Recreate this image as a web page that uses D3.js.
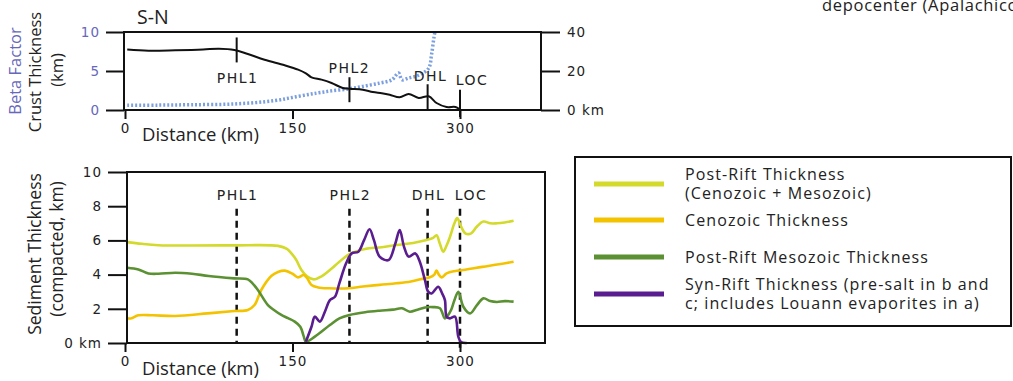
<!DOCTYPE html>
<html>
<head>
<meta charset="utf-8">
<script src="https://cdn.jsdelivr.net/npm/d3@7"></script>
<style>
  html, body { margin: 0; padding: 0; background: #fff; overflow: hidden; }
  svg { display: block; font-family: "Open Sans", sans-serif; }
  .tick text { font-family: "DejaVu Sans", sans-serif; font-size: 13.5px; letter-spacing: 1px; }
</style>
</head>
<body>
<svg id="chart" width="1013" height="381"></svg>
<script>
// ---- data (km along profile, value) ----
const crustThickness = [[2,7.75],[21,7.6],[45,7.65],[70,7.75],[84,7.86],[98,7.7],[110,7.18],[125,6.45],[143,5.73],[155,5.17],[162,4.7],[167,4.19],[176,3.89],[185,3.46],[195,2.82],[201,2.73],[213,2.6],[222,2.3],[230,2.15],[237,1.96],[246,1.63],[254,2.05],[263,1.54],[272,1.76],[279,0.9],[288,0.38],[296,0.38],[300,0.04]];
const betaFactor = [[2,2.4],[30,2.5],[59,2.7],[98,3.1],[134,4.8],[155,7.0],[172,8.7],[185,9.8],[201,10.9],[213,12.1],[228,13.8],[239,15.5],[245,19],[248,15.5],[254,16.4],[263,17.8],[272,21.5],[274.5,28.4],[276.6,36.9],[277.5,40]];

const postRift = [[2,5.9],[15,5.8],[30,5.72],[60,5.7],[98,5.71],[137,5.68],[145,5.5],[149,5.24],[153,4.9],[158,4.27],[163,3.9],[169,3.72],[176,3.9],[184,4.3],[192,4.75],[201,5.2],[215,5.5],[230,5.6],[243,5.73],[258,5.85],[270,6.02],[276,6.15],[279,6.3],[282,5.8],[285,5.34],[288,5.7],[291,6.2],[295,7.0],[297.5,7.3],[301,6.8],[305,6.4],[310,6.41],[315,6.8],[321,7.1],[327,7.0],[333,7.0],[340,7.05],[348,7.15]];
const cenozoic = [[2,1.44],[6,1.45],[12,1.62],[25,1.62],[45,1.58],[74,1.73],[98,1.87],[110,1.93],[116,2.22],[122,3.1],[131,3.92],[137,4.15],[143,4.23],[150,4.05],[155,3.84],[160,3.98],[163,3.8],[167,3.39],[173,3.25],[183,3.2],[200,3.2],[213,3.3],[228,3.4],[243,3.49],[256,3.6],[268,3.78],[273,3.84],[277,4.0],[279,4.23],[281,4.0],[283.5,3.84],[288,4.07],[295,4.2],[303,4.27],[320,4.45],[335,4.6],[348,4.75]];
const mesozoic = [[2,4.4],[12,4.3],[21,4.07],[30,4.05],[45,4.11],[60,4.05],[75,3.92],[98,3.78],[110,3.72],[114,3.5],[119,3.1],[128,2.22],[134,1.9],[140,1.64],[146,1.45],[152,1.25],[157,0.95],[160,0.4],[162,0.08],[170,0.37],[183.5,1.05],[192,1.44],[201,1.64],[215,1.8],[228,1.89],[240,1.95],[248,2.03],[255,1.83],[262,1.95],[270,2.09],[276,2.1],[282,2.03],[286.5,1.44],[289,1.6],[292,1.93],[295,2.5],[298.5,3.0],[303,2.12],[309,1.73],[315,2.2],[321,2.61],[327,2.45],[333,2.4],[340,2.45],[348,2.42]];
const synRift = [[162,0.08],[167,0.95],[170,1.54],[174.5,1.25],[179,1.83],[183.5,2.51],[188,2.7],[192,3.5],[198,4.66],[203,5.24],[209,5.34],[214,6.0],[219,6.65],[223,6.0],[228,5.05],[236,4.85],[242,5.8],[246,6.6],[250,5.6],[254,5.05],[260,5.24],[264,4.75],[268.6,3.68],[271.5,3.0],[274.6,2.9],[280.5,3.29],[284,2.9],[286.5,2.51],[288,1.54],[291,1.44],[295.5,1.54],[298.5,0.37],[301,0.05],[306,0]];

const markerNames = ['PHL1', 'PHL2', 'DHL', 'LOC'];
const markerKm = [100, 201, 271, 300];
const distTicks = [0, 150, 300];
const crustTicks = [0, 5, 10];
const betaTicks = [0, 20, 40];
const sedTicks = [0, 2, 4, 6, 8, 10];

const legendLabels = [
  ['Post-Rift Thickness', '(Cenozoic + Mesozoic)'],
  ['Cenozoic Thickness'],
  ['Post-Rift Mesozoic Thickness'],
  ['Syn-Rift Thickness (pre-salt in b and', 'c; includes Louann evaporites in a)'],
];

const COL = {
  postRift: '#d3da2b', cenozoic: '#f4c300', mesozoic: '#5b9132', synRift: '#5a1d8f',
  beta: '#7b9fdf', blueText: '#6767bb', ink: '#111',
};

const svg = d3.select('#chart');

// shared distance scale
const x = d3.scaleLinear().domain([0, 300]).range([125, 460]);

// ---- top panel ----
const topBox = { l: 124, r: 541, t: 32, b: 110 };
const yCrust = d3.scaleLinear().domain([0, 10]).range([topBox.b, topBox.t]);
const yBeta = d3.scaleLinear().domain([0, 40]).range([topBox.b, topBox.t]);

svg.append('text').attr('x', 137).attr('y', 24).attr('font-size', 19.5).attr('fill', '#222').text('S-N');
svg.append('text').attr('x', 822).attr('y', 11).attr('font-size', 16.5).attr('letter-spacing', 0.7)
  .attr('fill', '#222').text('depocenter (Apalachicola');

function axisStyle(g, color) {
  g.select('.domain').remove();
  g.selectAll('line').attr('stroke', COL.ink).attr('stroke-width', 2);
  g.selectAll('text').attr('fill', color || '#222');
}

svg.append('g').attr('transform', `translate(${topBox.l},0)`)
  .call(d3.axisLeft(yCrust).tickValues(crustTicks).tickSize(18).tickPadding(6))
  .call(axisStyle, COL.blueText);
svg.append('g').attr('transform', `translate(${topBox.r},0)`)
  .call(d3.axisRight(yBeta).tickValues(betaTicks).tickSize(19).tickPadding(7)
    .tickFormat((d) => (d === 0 ? '0 km' : d)))
  .call(axisStyle);
svg.append('g').attr('transform', `translate(0,${topBox.b})`)
  .call(d3.axisBottom(x).tickValues(distTicks).tickSize(9).tickPadding(4))
  .call(axisStyle);

svg.append('path').datum(betaFactor)
  .attr('d', d3.line().x((d) => x(d[0])).y((d) => yBeta(d[1])).curve(d3.curveCatmullRom))
  .attr('fill', 'none').attr('stroke', COL.beta).attr('stroke-width', 3.5)
  .attr('stroke-dasharray', '2,2');
svg.append('path').datum(crustThickness)
  .attr('d', d3.line().x((d) => x(d[0])).y((d) => yCrust(d[1])).curve(d3.curveCatmullRom))
  .attr('fill', 'none').attr('stroke', COL.ink).attr('stroke-width', 2);

svg.append('rect').attr('x', topBox.l).attr('y', topBox.t)
  .attr('width', topBox.r - topBox.l).attr('height', topBox.b - topBox.t)
  .attr('fill', 'none').attr('stroke', COL.ink).attr('stroke-width', 2);

// marker ticks in the crust panel: [tick top, tick bottom, label baseline] in crust km, label dx
const topMarkerSpan = [[9.3, 6.1, 3.5, 1], [4.2, 1.0, 4.75, 0], [3.3, 0, 3.75, 3], [2.6, -0.9, 3.2, 12]];
markerKm.forEach((km, i) => {
  const [a, b, ly, dx] = topMarkerSpan[i];
  svg.append('line').attr('x1', x(km)).attr('x2', x(km))
    .attr('y1', yCrust(a)).attr('y2', yCrust(b))
    .attr('stroke', COL.ink).attr('stroke-width', 2);
  svg.append('text').attr('x', x(km) + dx).attr('y', yCrust(ly))
    .attr('text-anchor', 'middle').attr('font-family', 'DejaVu Sans')
    .attr('font-size', 14).attr('letter-spacing', 1.5).attr('fill', '#222').text(markerNames[i]);
});

function vLabel(tx, ty, text, color, size) {
  svg.append('text').attr('transform', `translate(${tx},${ty}) rotate(-90)`)
    .attr('text-anchor', 'middle').attr('font-size', size || 16.5).attr('fill', color || '#222').text(text);
}
vLabel(21, 71, 'Beta Factor', COL.blueText);
vLabel(41, 72, 'Crust Thickness');
vLabel(63, 70, '(km)');
svg.append('text').attr('x', 142).attr('y', 141).attr('font-size', 18.5).attr('fill', '#222').text('Distance (km)');

// ---- bottom panel ----
const botBox = { l: 127, r: 545, t: 172, b: 343 };
const ySed = d3.scaleLinear().domain([0, 10]).range([botBox.b, botBox.t]);

svg.append('g').attr('transform', `translate(${botBox.l},0)`)
  .call(d3.axisLeft(ySed).tickValues(sedTicks).tickSize(19).tickPadding(6)
    .tickFormat((d) => (d === 0 ? '0 km' : d)))
  .call(axisStyle);
svg.append('g').attr('transform', `translate(0,${botBox.b})`)
  .call(d3.axisBottom(x).tickValues(distTicks).tickSize(9).tickPadding(4))
  .call(axisStyle);

// dashed hinge-line markers
markerKm.forEach((km, i) => {
  svg.append('line').attr('x1', x(km)).attr('x2', x(km))
    .attr('y1', ySed(7.85)).attr('y2', ySed(i === 3 ? -0.5 : 0))
    .attr('stroke', COL.ink).attr('stroke-width', 2.5).attr('stroke-dasharray', '7,5');
  svg.append('text').attr('x', x(km) + (i === 3 ? 11 : 1)).attr('y', ySed(8.35))
    .attr('text-anchor', 'middle').attr('font-family', 'DejaVu Sans')
    .attr('font-size', 14).attr('letter-spacing', 1.5).attr('fill', '#222').text(markerNames[i]);
});

const sedSeries = [
  { data: postRift, color: COL.postRift },
  { data: cenozoic, color: COL.cenozoic },
  { data: mesozoic, color: COL.mesozoic },
  { data: synRift, color: COL.synRift },
];
const sedLine = d3.line().x((d) => x(d[0])).y((d) => ySed(d[1])).curve(d3.curveCatmullRom);
sedSeries.forEach((s) => {
  svg.append('path').datum(s.data).attr('d', sedLine)
    .attr('fill', 'none').attr('stroke', s.color).attr('stroke-width', 2.6);
});

svg.append('rect').attr('x', botBox.l).attr('y', botBox.t)
  .attr('width', botBox.r - botBox.l).attr('height', botBox.b - botBox.t)
  .attr('fill', 'none').attr('stroke', COL.ink).attr('stroke-width', 2);

vLabel(41, 254, 'Sediment Thickness', null, 17.5);
vLabel(63, 249, '(compacted, km)', null, 17.5);
svg.append('text').attr('x', 142).attr('y', 375).attr('font-size', 18.5).attr('fill', '#222').text('Distance (km)');

// ---- legend ----
const leg = svg.append('g');
leg.append('rect').attr('x', 575).attr('y', 157).attr('width', 436).attr('height', 169)
  .attr('fill', 'none').attr('stroke', COL.ink).attr('stroke-width', 2);
const legY = [184, 220, 257, 294];
legendLabels.forEach((lines, i) => {
  leg.append('line').attr('x1', 594).attr('x2', 664).attr('y1', legY[i]).attr('y2', legY[i])
    .attr('stroke', sedSeries[i].color).attr('stroke-width', 5);
  const y0 = lines.length === 2 ? legY[i] - 4 : legY[i] + 6;
  lines.forEach((ln, j) => {
    leg.append('text').attr('x', 685).attr('y', y0 + j * 19)
      .attr('font-size', 16).attr('letter-spacing', 1.1).attr('fill', '#222').text(ln);
  });
});
</script>
</body>
</html>
